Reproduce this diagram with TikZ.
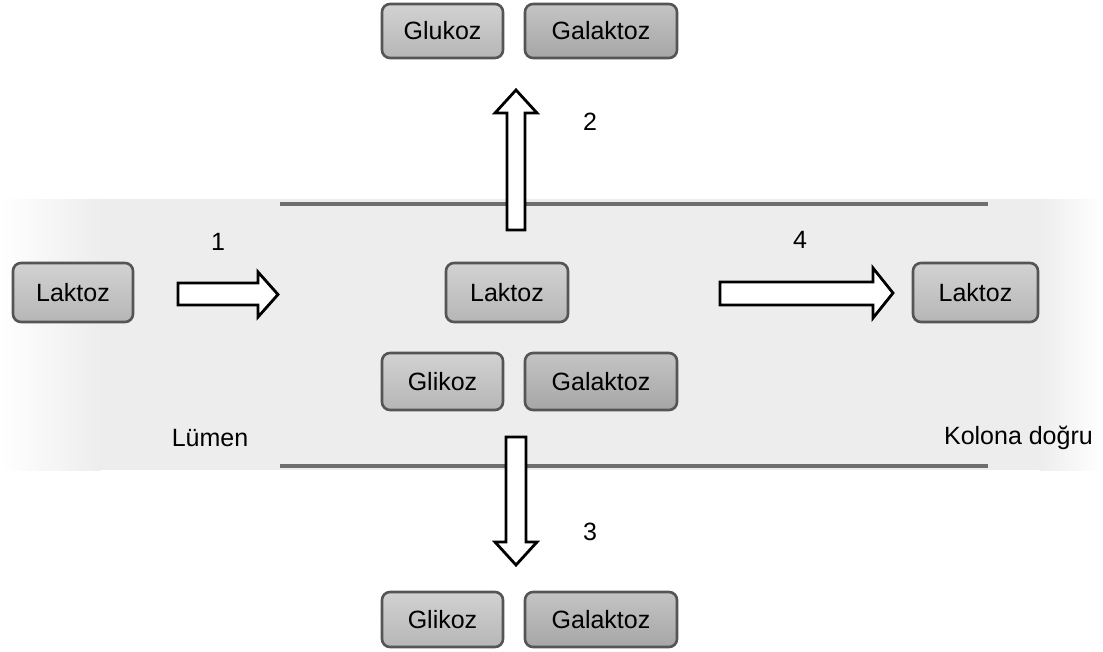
\documentclass[tikz,border=0pt]{standalone}
\usepackage{fontspec}
\setmainfont{Liberation Sans}
\begin{document}
\begin{tikzpicture}[x=1pt,y=-1pt,
  box/.style={draw=boxline,line width=2.6pt,rounded corners=8pt,top color=boxtop,bottom color=boxbot,
    inner sep=0pt,font=\fontsize{25}{28}\selectfont},
  darkbox/.style={box,top color=dboxtop,bottom color=dboxbot},
  lab/.style={font=\fontsize{25}{28}\selectfont,inner sep=0pt},
  blockarr/.style={draw=black,line width=2.8pt,fill=white,line join=miter},
  membrane/.style={draw=memgray,line width=4pt}]
\definecolor{boxline}{HTML}{555555}
\definecolor{boxtop}{HTML}{D2D2D2}
\definecolor{boxbot}{HTML}{B6B6B6}
\definecolor{dboxtop}{HTML}{C4C4C4}
\definecolor{dboxbot}{HTML}{A6A6A6}
\definecolor{band}{HTML}{EDEDED}
\definecolor{memgray}{HTML}{6E6E6E}
\useasboundingbox (0,0) rectangle (1103,651);
\fill[white] (0,0) rectangle (1103,651);
% background band
\fill[band] (100,199) rectangle (1040,470);
\shade[left color=white,right color=band] (0,199) rectangle (100.5,470);
\shade[left color=band,right color=white] (1039.5,199) rectangle (1103,470);
% membranes
\draw[membrane] (280,204) -- (988,204);
\draw[membrane] (280,466) -- (988,466);
% boxes
\node[box,minimum width=121pt,minimum height=54pt] (gluT) at (442.5,31) {Glukoz};
\node[darkbox,minimum width=152pt,minimum height=54pt] (galT) at (601,31) {Galaktoz};
\node[box,minimum width=120pt,minimum height=59pt] (lakL) at (73,292.5) {Laktoz};
\node[box,minimum width=122pt,minimum height=59pt] (lakM) at (507,292.5) {Laktoz};
\node[box,minimum width=121pt,minimum height=57pt] (gliM) at (442.5,381.5) {Glikoz};
\node[darkbox,minimum width=152pt,minimum height=57pt] (galM) at (601,381.5) {Galaktoz};
\node[box,minimum width=125pt,minimum height=59pt] (lakR) at (975.5,292.5) {Laktoz};
\node[box,minimum width=121pt,minimum height=55pt] (gliB) at (442.5,619.5) {Glikoz};
\node[darkbox,minimum width=152pt,minimum height=55pt] (galB) at (601,619.5) {Galaktoz};
% block arrows
\draw[blockarr] (178,283) -- (258,283) -- (258,272) -- (278,294.5) -- (258,317) -- (258,305) -- (178,305) -- cycle;
\draw[blockarr] (720,282) -- (873,282) -- (873,268) -- (893,293) -- (873,318) -- (873,305) -- (720,305) -- cycle;
\draw[blockarr] (507,230) -- (507,113) -- (495,113) -- (516,90) -- (537,113) -- (525,113) -- (525,230) -- cycle;
\draw[blockarr] (506,437) -- (506,542) -- (495,542) -- (516,565) -- (537,542) -- (526,542) -- (526,437) -- cycle;
% labels
\node[lab] (n1) at (218,242) {1};
\node[lab] (n2) at (590,122) {2};
\node[lab] (n3) at (590,532) {3};
\node[lab] (n4) at (800,240) {4};
\node[lab] (lum) at (210,438) {Lümen};
\node[lab,anchor=east] (kol) at (1093,438) {Kolona doğru};
\end{tikzpicture}
\end{document}
